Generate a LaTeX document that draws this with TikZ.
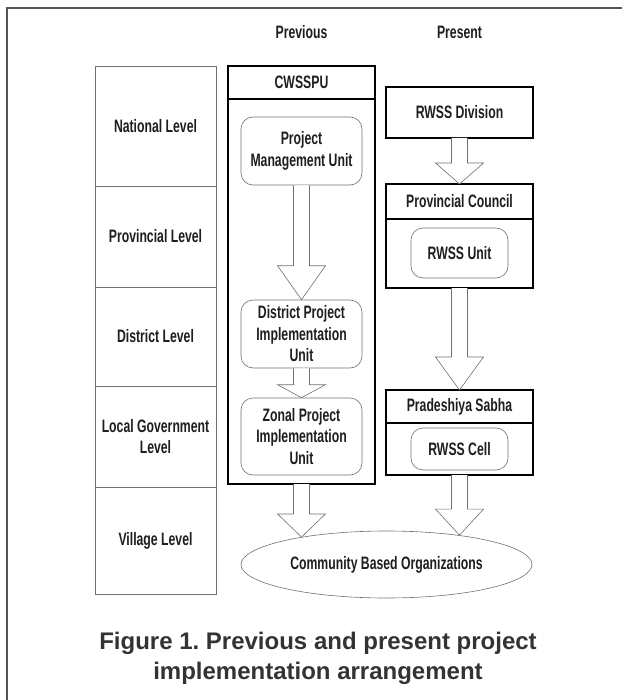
\documentclass[tikz,border=0pt]{standalone}
\usepackage{fontspec}
\setmainfont{Liberation Sans}
\newfontfamily\narrowfont[FakeStretch=0.68]{Liberation Sans}
\usetikzlibrary{shapes.geometric, calc}
\definecolor{cline}{HTML}{707070}
\definecolor{ctext}{HTML}{1E1E1E}
\definecolor{ccaption}{HTML}{333333}
\definecolor{cframe}{HTML}{555555}
\newcommand{\boxfont}{\narrowfont\bfseries\fontsize{18}{21.5}\selectfont}
\tikzset{
  level/.style={draw=cline, line width=0.6pt, minimum width=121pt, align=center, inner sep=2pt, font=\boxfont, text=ctext},
  orgbox/.style={draw=black, line width=2.6pt, outer sep=0pt, minimum width=147pt, align=center, inner sep=2pt, font=\boxfont, text=ctext},
  unit/.style={draw=cline, line width=0.6pt, rounded corners=12pt, align=center, inner sep=2pt, font=\boxfont, text=ctext},
  colhead/.style={font=\boxfont, text=ctext},
  blockarrow/.style={draw=cline, fill=white, line width=0.6pt, line join=miter},
  caption/.style={font=\bfseries\fontsize{24}{30}\selectfont, text=ccaption, align=center},
}
% hollow block arrow: source anchor, target anchor, head length
\newcommand{\hollowarrow}[3]{%
  \draw[blockarrow] ($(#1)+(-8,0)$) -- ($(#2 -| #1)+(-8,-#3)$) -- ($(#2 -| #1)+(-24,-#3)$)
    -- (#2 -| #1) -- ($(#2 -| #1)+(24,-#3)$) -- ($(#2 -| #1)+(8,-#3)$) -- ($(#1)+(8,0)$);
}
\begin{document}
\frenchspacing
\begin{tikzpicture}[x=1pt, y=-1pt]
  \useasboundingbox (0,0) rectangle (622,700);
  \draw[cframe, line width=1.8pt] (7,700) -- (7,8) -- (622,8);
  % levels
  \node[level, minimum height=120pt] (national) at (155.5,126) {National Level};
  \node[level, minimum height=101pt] (provincial) at (155.5,236.5) {Provincial Level};
  \node[level, minimum height=99pt] (district) at (155.5,336.5) {District Level};
  \node[level, minimum height=101pt] (local) at (155.5,436.5) {Local Government\\Level};
  \node[level, minimum height=107pt] (village) at (155.5,540.5) {Village Level};
  \node[colhead] (prevhead) at (301.5,32) {Previous};
  \node[colhead] (presenthead) at (459.5,32) {Present};
  % previous
  \node[orgbox, minimum height=418pt] (prev) at (301.5,275) {};
  \node[orgbox, minimum height=33pt, anchor=north] (cwsspu) at (prev.north) {CWSSPU};
  \node[unit, minimum width=121pt, minimum height=68pt] (pmu) at (301.5,151) {Project\\Management Unit};
  \node[unit, minimum width=121pt, minimum height=68pt] (dpiu) at (301.5,334) {District Project\\Implementation\\Unit};
  \node[unit, minimum width=121pt, minimum height=77pt] (zpiu) at (301.5,436.5) {Zonal Project\\Implementation\\Unit};
  % present
  \node[orgbox, minimum height=51pt] (division) at (459.5,112.5) {RWSS Division};
  \node[orgbox, minimum height=104pt] (council) at (459.5,236) {};
  \node[orgbox, minimum height=35pt, anchor=north] (councilhead) at (council.north) {Provincial Council};
  \node[unit, minimum width=97pt, minimum height=50pt] (rwssunit) at (459.5,253) {RWSS Unit};
  \node[orgbox, minimum height=85pt] (sabha) at (459.5,432.5) {};
  \node[orgbox, minimum height=33pt, anchor=north] (sabhahead) at (sabha.north) {Pradeshiya Sabha};
  \node[unit, minimum width=97pt, minimum height=42pt] (rwsscell) at (459.5,449) {RWSS Cell};
  \node[ellipse, draw=cline, line width=0.6pt, minimum width=291pt, minimum height=67pt, font=\boxfont, text=ctext] (cbo) at (386.5,564.5) {Community Based Organizations};
  % arrows
  \hollowarrow{pmu.south}{dpiu.north}{34}
  \hollowarrow{dpiu.south}{zpiu.north}{13}
  \hollowarrow{prev.south}{cbo.162}{23}
  \hollowarrow{division.south}{council.north}{21}
  \hollowarrow{council.south}{sabha.north}{33}
  \hollowarrow{sabha.south}{cbo.22}{26}
  \node[caption] (fig) at (318,658) {Figure 1. Previous and present project\\implementation arrangement};
\end{tikzpicture}
\end{document}
